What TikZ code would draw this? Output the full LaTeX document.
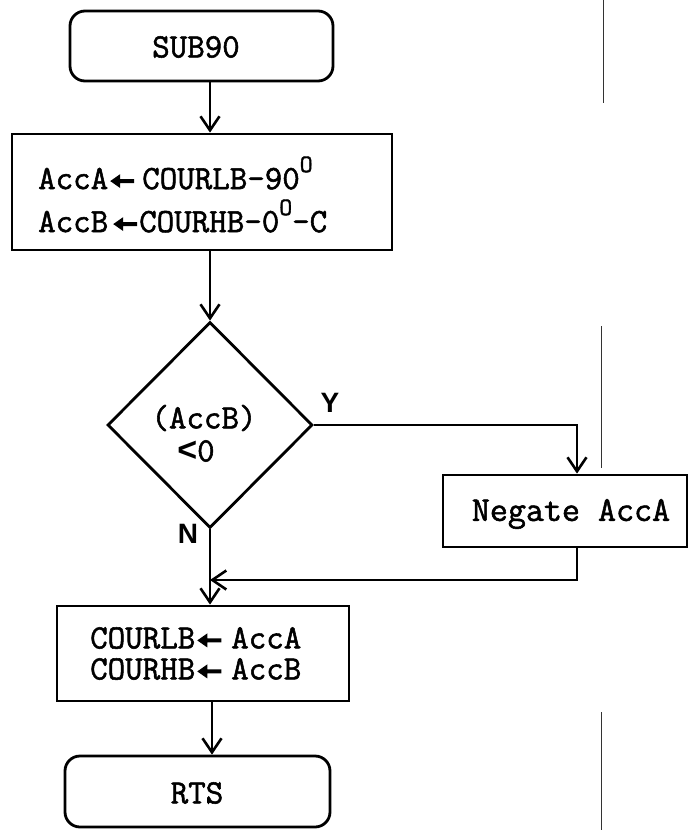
\documentclass[tikz,border=0pt]{standalone}
\usepackage{fontspec}
\newfontfamily\tw{Latin Modern Mono}[FakeBold=1.6]
\newfontfamily\labfont{Liberation Sans}
\usetikzlibrary{shapes.geometric,arrows.meta}
\newcommand{\larr}{\tikz[x=1pt,y=1pt,baseline=0pt]{\fill (0,8) -- (10,15) -- (10,10) -- (24,10) -- (24,6) -- (10,6) -- (10,1) -- cycle;}}
\newcommand{\degO}{\raisebox{0.5em}{\fontsize{25}{25}\selectfont O}}
\begin{document}
\begin{tikzpicture}[x=1pt,y=-1pt,
  line width=2.8pt,
  box/.style={draw, rectangle, inner sep=0pt},
  term/.style={draw, rectangle, rounded corners=15pt, inner sep=0pt},
  decision/.style={draw, diamond, inner sep=0pt},
  arr/.style={-{Straight Barb[length=14pt,width=19pt,line width=2.6pt]}},
  txt/.style={font=\tw\fontsize{34}{36}\selectfont, inner sep=0pt},
  lab/.style={font=\labfont\bfseries\fontsize{28}{28}\selectfont, inner sep=0pt},
  scan/.style={line width=1pt, draw=black!80}
]
\useasboundingbox (0,0) rectangle (692,830);

% shapes
\node[term, minimum width=263pt, minimum height=70pt] (start) at (201.5,46) {};
\node[box, minimum width=380pt, minimum height=116pt] (calc) at (202,192) {};
\node[decision, minimum width=205pt, minimum height=206pt] (dec) at (210,425) {};
\node[box, minimum width=244pt, minimum height=72pt] (neg) at (565,511) {};
\node[box, minimum width=292pt, minimum height=95pt] (store) at (203,653.5) {};
\node[term, minimum width=265pt, minimum height=71pt] (rts) at (197.5,791.5) {};

% texts
\node[txt] (t0) at (196,47) {SUB90};
\node[txt, anchor=west] (t1) at (38,173) {AccA\hspace{2pt}\larr\hspace{8pt}COURLB-90\degO};
\node[txt, anchor=west] (t2) at (38,216) {AccB\hspace{5pt}\larr\hspace{2pt}COURHB-0\degO-C};
\node[txt] (t3) at (204,418) {(AccB)};
\node[txt] (t4) at (196,451) {{\labfont\bfseries <}0};
\node[txt, font=\tw\fontsize{35}{36}\selectfont] (t5) at (571,514) {Negate AccA};
\node[txt, anchor=west] (t6) at (90,638) {COURLB\hspace{2pt}\larr\hspace{10pt}AccA};
\node[txt, anchor=west] (t7) at (90,669) {COURHB\hspace{2pt}\larr\hspace{10pt}AccB};
\node[txt] (t8) at (197,793) {RTS};
\node[lab] (ylab) at (330,403) {Y};
\node[lab] (nlab) at (188,534) {N};

% connector helpers
\coordinate (nx) at (577,0);
\coordinate (c1) at (dec.east -| nx);
\coordinate (c2) at (nx |- 0,580);
\coordinate (c3) at (dec.south |- 0,580);
\coordinate (c4) at (212,0);

% connectors
\draw[arr] (start.south -| dec.north) -- (calc.north -| dec.north);
\draw[arr] (calc.south -| dec.north) -- (dec.north);
\draw[arr] (dec.east) -- (c1) -- (neg.north -| nx);
\draw[arr] (neg.south -| nx) -- (c2) -- (c3);
\draw[arr] (dec.south) -- (store.north -| dec.south);
\draw[arr] (store.south -| c4) -- (rts.north -| c4);

% scan marks
\coordinate (s1) at (603,0);
\coordinate (s2) at (603,103);
\coordinate (s3) at (601,326);
\coordinate (s4) at (601,468);
\coordinate (s5) at (601,712);
\coordinate (s6) at (601,830);
\draw[scan] (s1) -- (s2);
\draw[scan] (s3) -- (s4);
\draw[scan] (s5) -- (s6);
\end{tikzpicture}
\end{document}
